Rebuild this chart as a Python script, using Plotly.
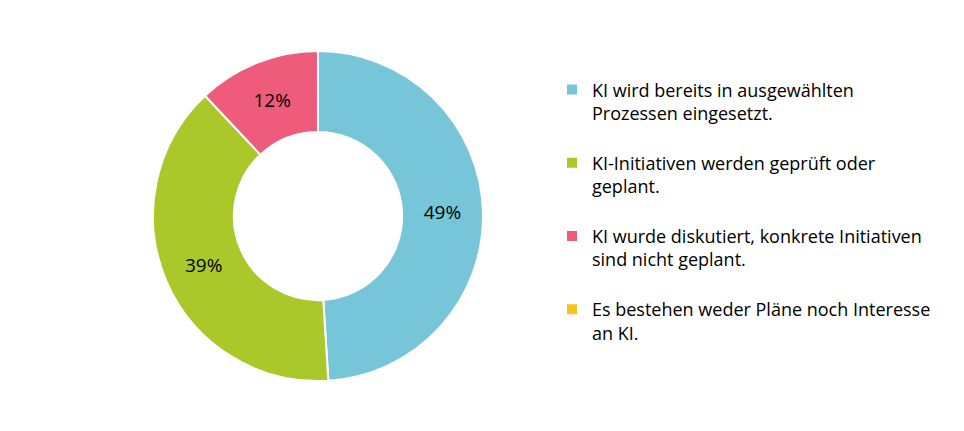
import plotly.graph_objects as go

# Anteile der Antworten (in %)
labels = [
    "KI wird bereits in ausgewählten<br>Prozessen eingesetzt.<br> ",
    "KI-Initiativen werden geprüft oder<br>geplant.<br> ",
    "KI wurde diskutiert, konkrete Initiativen<br>sind nicht geplant.<br> ",
    "Es bestehen weder Pläne noch Interesse<br>an KI.",
]
values = [49, 39, 12, 0]
colors = ["#77C5D8", "#AAC82A", "#EE5B7B", "#F8C31A"]
text_labels = ["49%", "39%", "12%", ""]

fig = go.Figure(go.Pie(
    labels=labels,
    values=values,
    text=text_labels,
    textinfo="text",
    textposition="inside",
    insidetextorientation="horizontal",
    textfont=dict(family="Open Sans", size=19, color="#000000"),
    hole=0.51,
    sort=False,
    direction="clockwise",
    rotation=0,
    marker=dict(colors=colors, line=dict(color="white", width=2)),
    domain=dict(x=[0.1504, 0.4927], y=[0.1345, 0.9002]),
))

fig.update_layout(
    width=964, height=431,
    margin=dict(l=0, r=0, t=0, b=0),
    paper_bgcolor="white",
    font=dict(family="Open Sans", size=18, color="#000000"),
    legend=dict(x=0.5643, y=0.853, xanchor="left", yanchor="top",
                valign="top", font=dict(size=18)),
)

fig.write_html("out.html")
